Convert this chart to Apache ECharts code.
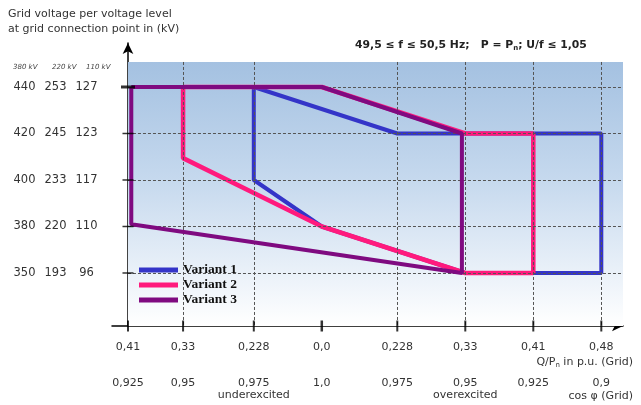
<!DOCTYPE html>
<html>
<head>
<meta charset="utf-8">
<script src="https://cdn.jsdelivr.net/npm/echarts@6/dist/echarts.min.js"></script>
<style>html,body{margin:0;padding:0;background:#fff}#c{width:641px;height:405px}</style>
</head>
<body>
<div id="c"></div>
<script>
// ---- Data ----
// Schematic horizontal position of each Q/Pn tick (the original axis is not to scale)
const xTickPos = [0, 0.81, 1.85, 2.85, 3.96, 4.96, 5.96, 6.96];
const qLabels = ['0,41', '0,33', '0,228', '0,0', '0,228', '0,33', '0,41', '0,48'];
const cosLabels = ['0,925', '0,95', '0,975', '1,0', '0,975', '0,95', '0,925', '0,9'];
const excitationLabels = ['', '', 'underexcited', '', '', 'overexcited', '', ''];
// Voltage levels (equally spaced levels 0..4 on the chart)
const levelIndex = [0, 1, 2, 3, 4];
const kv380 = [350, 380, 400, 420, 440];
const kv220 = [193, 220, 233, 245, 253];
const kv110 = [96, 110, 117, 123, 127];
const levelHeaders = ['380 kV', '220 kV', '110 kV'];
const seriesNames = ['Variant 1', 'Variant 2', 'Variant 3'];
// Polygon vertices: [Q tick index, voltage level index]
const variant1 = [[2, 4], [4, 3], [7, 3], [7, 0], [5, 0], [3, 1], [2, 2], [2, 4]];
const variant2 = [[1, 4], [3, 4], [5, 3], [6, 3], [6, 0], [5, 0], [3, 1], [1, 2.47], [1, 4]];
const variant3 = [[0.06, 4], [3, 4], [4.95, 3], [4.95, 0], [0.06, 1.05], [0.06, 4]];

// ---- Helpers ----
function posOf(i) {
  const f = Math.floor(i);
  if (f >= xTickPos.length - 1) return xTickPos[xTickPos.length - 1];
  const t = i - f;
  return xTickPos[f] + t * (xTickPos[f + 1] - xTickPos[f]);
}
const toXY = arr => arr.map(p => [posOf(p[0]), p[1]]);

const xMin = -0.235, xMax = 7.279;
const yMin = -1.14, yMax = 4.946, yBgTop = 4.538;

const chart = echarts.init(document.getElementById('c'), null, {renderer: 'canvas'});
const font = 'DejaVu Sans';

const gridLineStyle = {color: '#555', width: 1, type: [3, 2]};
const markLines = [];
levelIndex.forEach(i => markLines.push([{coord: [0, i], lineStyle: gridLineStyle}, {coord: [xMax, i]}]));
xTickPos.forEach((p, i) => {
  if (i === 0 || i === 3) return;
  markLines.push([{coord: [p, yBgTop], lineStyle: gridLineStyle}, {coord: [p, yMin]}]);
});
markLines.push([{coord: [xTickPos[3], yBgTop], lineStyle: {color: '#000', width: 2, type: 'solid'}}, {coord: [xTickPos[3], yMin - 0.08]}]);

const colors = ['#3434c8', '#ff1a7d', '#7f0a80'];

chart.setOption({
  animation: false,
  grid: {left: 112, top: 43, right: 18, bottom: 79, containLabel: false, outerBoundsMode: 'none'},
  xAxis: {
    type: 'value', min: xMin, max: xMax,
    splitLine: {show: false},
    axisTick: {show: false},
    axisLine: {onZero: false, lineStyle: {color: '#000', width: 1.5}, symbol: ['none', 'arrow'], symbolSize: [8, 11]},
    axisLabel: {
      customValues: xTickPos,
      margin: 14,
      formatter: function (v) {
        let i = xTickPos.indexOf(v);
        if (i < 0) { let best = 0; xTickPos.forEach((p, k) => { if (Math.abs(p - v) < Math.abs(xTickPos[best] - v)) best = k; }); i = best; }
        let s = '{a|' + qLabels[i] + '}\n{sp| }\n{b|' + cosLabels[i] + '}';
        if (excitationLabels[i]) s += '\n{c|' + excitationLabels[i] + '}';
        return s;
      },
      rich: {
        a: {fontFamily: font, fontSize: 11, color: '#333', lineHeight: 14},
        sp: {fontSize: 6, lineHeight: 22},
        b: {fontFamily: font, fontSize: 11, color: '#333', lineHeight: 14},
        c: {fontFamily: font, fontSize: 11, color: '#333', lineHeight: 11}
      }
    }
  },
  yAxis: {
    type: 'value', min: yMin, max: yMax,
    splitLine: {show: false},
    axisTick: {show: false},
    axisLine: {onZero: true, lineStyle: {color: '#000', width: 1.5}, symbol: ['none', 'arrow'], symbolSize: [8, 11]},
    axisLabel: {
      customValues: levelIndex,
      margin: 10,
      formatter: v => '{a|' + kv380[v] + '}{b|' + kv220[v] + '}{c|' + kv110[v] + '}',
      rich: {
        a: {fontFamily: font, fontSize: 11.5, color: '#333', width: 31, align: 'center'},
        b: {fontFamily: font, fontSize: 11.5, color: '#333', width: 31, align: 'center'},
        c: {fontFamily: font, fontSize: 11.5, color: '#333', width: 31, align: 'center'}
      }
    }
  },
  legend: {
    data: seriesNames,
    orient: 'vertical', left: 134, top: 258,
    icon: 'rect', itemWidth: 39, itemHeight: 5, itemGap: 1,
    textStyle: {fontFamily: 'Liberation Serif', fontWeight: 'bold', fontSize: 13.5, color: '#111', lineHeight: 14}
  },
  series: [
    {
      name: 'background', type: 'line', data: [], z: 1, silent: true,
      markArea: {
        silent: true,
        itemStyle: {color: new echarts.graphic.LinearGradient(0, 0, 0, 1, [
          {offset: 0, color: '#a4c1e1'}, {offset: 0.45, color: '#c6d9ee'}, {offset: 1, color: '#ffffff'}
        ])},
        data: [[{coord: [0, yBgTop]}, {coord: [xMax, yMin]}]]
      },
      markLine: {silent: true, symbol: ['none', 'none'], label: {show: false}, data: markLines}
    },
    {name: seriesNames[0], type: 'line', data: toXY(variant1), symbol: 'none', z: 3, color: colors[0], lineStyle: {width: 4, color: colors[0]}},
    {name: seriesNames[1], type: 'line', data: toXY(variant2), symbol: 'none', z: 4, color: colors[1], lineStyle: {width: 4.5, color: colors[1]}},
    {name: seriesNames[2], type: 'line', data: toXY(variant3), symbol: 'none', z: 5, color: colors[2], lineStyle: {width: 4, color: colors[2]}},
    {
      name: 'yticks', type: 'scatter', z: 6, silent: true, clip: false,
      symbol: 'rect', itemStyle: {color: '#000'},
      data: levelIndex.map(i => ({value: [0, i], symbolSize: i === 4 ? [14, 3] : [11, 1.5]}))
    },
    {
      name: 'xticks', type: 'scatter', z: 6, silent: true, clip: false,
      symbol: 'rect', itemStyle: {color: '#000'},
      data: xTickPos.map((p, i) => ({value: [p, yMin], symbolSize: [i === 3 ? 2.5 : 2, 11]}))
    }
  ],
  graphic: [
    {type: 'text', left: 8, top: 9, style: {text: 'Grid voltage per voltage level', font: '11px "DejaVu Sans"', fill: '#333'}},
    {type: 'text', left: 8, top: 24, style: {text: 'at grid connection point in (kV)', font: '11px "DejaVu Sans"', fill: '#333'}},
    {type: 'text', left: 13, top: 64, style: {text: levelHeaders[0], font: 'italic 7px "DejaVu Sans"', fill: '#444'}},
    {type: 'text', left: 52, top: 64, style: {text: levelHeaders[1], font: 'italic 7px "DejaVu Sans"', fill: '#444'}},
    {type: 'text', left: 86, top: 64, style: {text: levelHeaders[2], font: 'italic 7px "DejaVu Sans"', fill: '#444'}},
    {type: 'text', left: 355, top: 39, style: {
      text: '{m|49,5 ≤ f ≤ 50,5 Hz;   P = P}{s|n}{m|; U/f ≤ 1,05}',
      rich: {m: {fontFamily: font, fontSize: 10.8, fontWeight: 'bold', fill: '#222', lineHeight: 14},
             s: {fontFamily: font, fontSize: 7, fontWeight: 'bold', fill: '#222', lineHeight: 14, verticalAlign: 'bottom', padding: [6, 0, 0, 0]}}
    }},
    {type: 'text', right: 8, top: 356, style: {
      text: '{m|Q/P}{s|n}{m| in p.u. (Grid)}',
      rich: {m: {fontFamily: font, fontSize: 11, fill: '#333', lineHeight: 14},
             s: {fontFamily: font, fontSize: 7, fill: '#333', lineHeight: 14, verticalAlign: 'bottom', padding: [6, 0, 0, 0]}}
    }},
    {type: 'text', right: 8, top: 391, style: {text: 'cos φ (Grid)', font: '11px "DejaVu Sans"', fill: '#333'}}
  ]
});
</script>
</body>
</html>
